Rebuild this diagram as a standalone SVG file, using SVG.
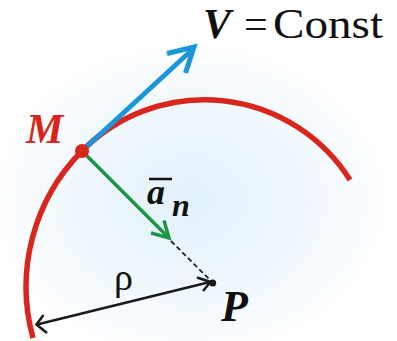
<svg xmlns="http://www.w3.org/2000/svg" width="397" height="341" viewBox="0 0 397 341">
<defs>
<radialGradient id="glow" cx="190" cy="200" r="200" gradientUnits="userSpaceOnUse" gradientTransform="translate(190 200) scale(1 0.8) translate(-190 -200)">
<stop offset="0" stop-color="#e2f1fa"/>
<stop offset="0.6" stop-color="#f0f8fd"/>
<stop offset="1" stop-color="#ffffff"/>
</radialGradient>
<style>
.serif{font-family:"Liberation Serif","Times New Roman",serif;}
.bi{font-weight:bold;font-style:italic;}
.arr{fill:none;stroke-linecap:butt;stroke-linejoin:miter;}
</style>
</defs>
<rect width="397" height="341" fill="url(#glow)"/>
<g id="trajectory">
<path d="M33,338 A193,193 0 0 1 82,151 A172,172 0 0 1 350,180" fill="none" stroke="#d9261c" stroke-width="5.5"/>
</g>
<g id="connectors">
<g id="velocity" class="arr" stroke="#1b96d9" stroke-width="5">
<line x1="82" y1="151" x2="193" y2="49"/>
<polyline points="167,53.5 194,47 185.5,73"/>
</g>
<g id="accel" class="arr" stroke="#1e9447" stroke-width="3.5">
<line x1="82" y1="151" x2="168" y2="237"/>
<polyline points="151,233 169,238 164,220.5"/>
</g>
<line x1="171" y1="241" x2="212" y2="282" stroke="#222" stroke-width="1.8" stroke-dasharray="5,3"/>
<g id="radius" class="arr" stroke="#1a1a1a" stroke-width="2.6">
<line x1="37" y1="324.5" x2="210" y2="282"/>
<polyline points="197,277.5 210.5,282 203,291"/>
<polyline points="43.5,315 36.5,324.5 47,333"/>
</g>
</g>
<g id="M">
<circle cx="82" cy="151" r="7" fill="#d9261c"/>
<text x="26" y="143" class="serif bi" font-size="42" fill="#d9261c">M</text>
</g>
<g id="P">
<circle cx="212.7" cy="283" r="3.5" fill="#1a1a1a"/>
<text x="221" y="321" class="serif bi" font-size="44" fill="#111">P</text>
</g>
<g id="labels">
<text y="38" class="serif" font-size="42" fill="#111"><tspan x="203" class="bi">V</tspan><tspan x="244">=</tspan><tspan x="273" textLength="110" lengthAdjust="spacingAndGlyphs">Const</tspan></text>
<text x="147" y="204" class="serif bi" font-size="36" fill="#111">a</text>
<line x1="149" y1="179" x2="172" y2="179" stroke="#111" stroke-width="2.5"/>
<text x="172" y="216" class="serif bi" font-size="32" fill="#111">n</text>
<text x="114" y="290" class="serif" font-size="38" fill="#111">ρ</text>
</g>
</svg>
